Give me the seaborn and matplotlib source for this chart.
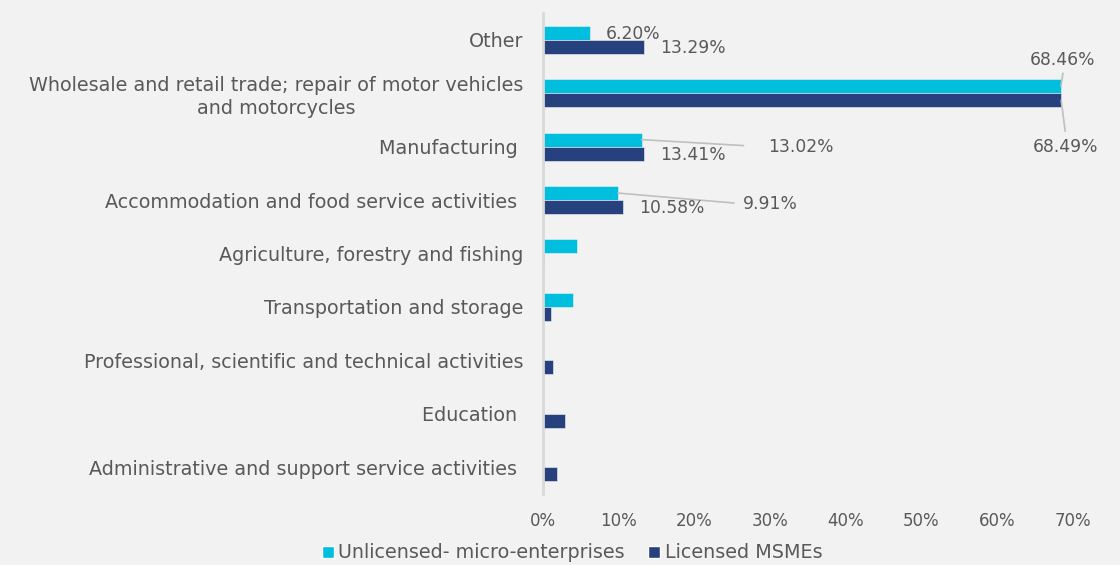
import matplotlib
matplotlib.use("Agg")
import matplotlib.pyplot as plt
import seaborn as sns
import pandas as pd
from matplotlib.patches import Patch
from matplotlib.ticker import FuncFormatter, FixedLocator

# ---- data -------------------------------------------------------------
categories = [
    "Other",
    "Wholesale and retail trade; repair of motor vehicles\nand motorcycles",
    "Manufacturing ",
    "Accommodation and food service activities ",
    "Agriculture, forestry and fishing",
    "Transportation and storage",
    "Professional, scientific and technical activities",
    "Education ",
    "Administrative and support service activities ",
]
unlicensed = [6.20, 68.46, 13.02, 9.91, 4.5, 4.0, 0.0, 0.0, 0.0]
licensed = [13.29, 68.49, 13.41, 10.58, 0.15, 1.1, 1.3, 2.85, 1.9]
series = ["Unlicensed- micro-enterprises", "Licensed MSMEs"]
x_ticks = [0, 10, 20, 30, 40, 50, 60, 70]

# ---- styling ----------------------------------------------------------
CYAN = "#00BFDE"
NAVY = "#27417F"
BG = "#F2F2F2"
TEXT = "#595959"
LEADER = "#BFBFBF"

sns.set_style("white", rc={"axes.facecolor": BG, "figure.facecolor": BG})
plt.rcParams["font.family"] = ["DejaVu Sans"]

df = pd.DataFrame({
    "category": categories * 2,
    "value": unlicensed + licensed,
    "series": [series[0]] * len(categories) + [series[1]] * len(categories),
})

fig = plt.figure(figsize=(11.2, 5.65), dpi=100)
ax = fig.add_axes([543 / 1120, 1 - 494 / 565, (1072.6 - 543) / 1120, (494 - 13) / 565])

sns.barplot(data=df, x="value", y="category", hue="series", order=categories,
            hue_order=series, palette=[CYAN, NAVY], saturation=1, width=0.525,
            orient="h", legend=False, ax=ax, edgecolor=BG, linewidth=0.4)

ax.set_xlim(0, 70)
ax.xaxis.set_major_locator(FixedLocator(x_ticks))
ax.xaxis.set_major_formatter(FuncFormatter(lambda v, p: f"{v:.0f}%"))
ax.set_xlabel("")
ax.set_ylabel("")
for side in ("top", "right", "bottom"):
    ax.spines[side].set_visible(False)
ax.spines["left"].set_color("#D9D9D9")
ax.spines["left"].set_linewidth(2)
ax.tick_params(axis="both", length=0, labelcolor=TEXT)
ax.tick_params(axis="x", pad=13, labelsize=12)
ax.tick_params(axis="y", pad=14, labelsize=13.8)
for lbl in ax.get_yticklabels():
    lbl.set_multialignment("center")
    lbl.set_linespacing(1.25)

# ---- data labels (text offset, optional leader end), in pixels -------
label_pos = {
    (0, 0): ((16, -1), "left", None),
    (1, 0): ((17, -1), "left", None),
    (0, 1): ((2, 26), "center", (2, 13)),
    (1, 1): ((4, -47), "center", (4, -31)),
    (0, 2): ((127, -7), "left", (102, -6)),
    (1, 2): ((16, -1), "left", None),
    (0, 3): ((125, -11), "left", (116, -10)),
    (1, 3): ((16, -1), "left", None),
}
values = [unlicensed, licensed]
for (s, c), (off, ha, leader) in label_pos.items():
    bar = ax.containers[s][c]
    xend = bar.get_x() + bar.get_width()
    yc = bar.get_y() + bar.get_height() / 2
    if leader is not None:
        ax.annotate("", xy=(xend, yc), xytext=leader, textcoords="offset pixels",
                    arrowprops=dict(arrowstyle="-", color=LEADER, lw=1.2,
                                    shrinkA=0, shrinkB=0))
    ax.annotate(f"{values[s][c]:.2f}%", xy=(xend, yc), xytext=off,
                textcoords="offset pixels", ha=ha, va="center",
                color=TEXT, fontsize=12.3, annotation_clip=False)

handles = [Patch(facecolor=CYAN), Patch(facecolor=NAVY)]
fig.legend(handles, series, loc="center", bbox_to_anchor=(572 / 1120, 1 - 553 / 565),
           ncol=2, frameon=False, handlelength=0.62, handleheight=0.62,
           handletextpad=0.25, columnspacing=1.2, fontsize=13.8, labelcolor=TEXT)

fig.savefig("out.png", dpi=100, facecolor=BG)
